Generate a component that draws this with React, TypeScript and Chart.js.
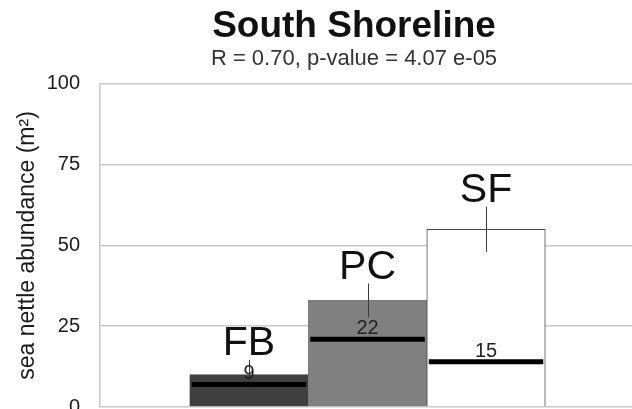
import React, { useEffect, useRef } from 'react';
import { Chart, registerables } from 'chart.js';

Chart.register(...registerables);

const sites = ['FB', 'PC', 'SF'];
const sitePositions = [1, 2, 3];
const meanAbundance = [10, 33, 55];
const errorSize = [4.6, 5.2, 7];
const medianAbundance = [7, 21, 14];
const sampleCounts = ['9', '22', '15'];
const yTicks = [0, 25, 50, 75, 100];

const FONT = '"Liberation Sans", Arial, Helvetica, sans-serif';

const overlayPlugin = {
  id: 'overlay',
  afterDatasetsDraw(chart: any) {
    const { ctx } = chart;
    const xs = chart.scales.x;
    const ys = chart.scales.y;
    const meta = chart.getDatasetMeta(0);
    ctx.save();
    sites.forEach((name, i) => {
      const bar: any = meta.data[i];
      const cx = xs.getPixelForValue(sitePositions[i]);
      const half = bar.width / 2;
      const top = ys.getPixelForValue(meanAbundance[i] + errorSize[i]);
      const bottom = ys.getPixelForValue(meanAbundance[i] - errorSize[i]);
      ctx.strokeStyle = '#3a3a3a';
      ctx.lineWidth = 1;
      ctx.beginPath();
      ctx.moveTo(Math.round(cx) + 0.5, top);
      ctx.lineTo(Math.round(cx) + 0.5, bottom);
      ctx.stroke();

      const my = ys.getPixelForValue(medianAbundance[i]);
      ctx.strokeStyle = '#000000';
      ctx.lineWidth = 5;
      ctx.beginPath();
      ctx.moveTo(cx - half + 2, my);
      ctx.lineTo(cx + half - 2, my);
      ctx.stroke();

      ctx.fillStyle = '#222222';
      ctx.font = `20px ${FONT}`;
      ctx.textAlign = 'center';
      ctx.textBaseline = 'alphabetic';
      ctx.fillText(sampleCounts[i], cx, my - 5);

      ctx.fillStyle = '#111111';
      ctx.font = `41px ${FONT}`;
      ctx.fillText(name, cx, top - 5);
    });
    ctx.restore();
  },
};

export default function App() {
  const canvasRef = useRef<HTMLCanvasElement | null>(null);

  useEffect(() => {
    document.body.style.overflow = 'hidden';
    const canvas = canvasRef.current;
    if (!canvas) return;
    const chart = new Chart(canvas, {
      type: 'bar',
      data: {
        datasets: [
          {
            data: sitePositions.map((x, i) => ({ x, y: meanAbundance[i] })),
            backgroundColor: ['#404040', '#808080', '#ffffff'],
            borderColor: ['#404040', '#7a7a7a', '#4a4a4a'],
            borderWidth: 1,
            barPercentage: 1,
            categoryPercentage: 1,
          },
        ],
      },
      options: {
        animation: false,
        responsive: false,
        devicePixelRatio: 1,
        layout: { padding: { left: 0, right: 0, top: 0, bottom: 24 } },
        plugins: {
          legend: { display: false },
          tooltip: { enabled: false },
          title: {
            display: true,
            text: 'South Shoreline',
            color: '#111111',
            font: { family: FONT, size: 37, weight: 'bold', lineHeight: 1.0 },
            padding: { top: 8, bottom: 0 },
          },
          subtitle: {
            display: true,
            text: 'R = 0.70, p-value = 4.07 e-05',
            color: '#333333',
            font: { family: FONT, size: 22, lineHeight: 1.0 },
            padding: { top: 2.5, bottom: 14.4 },
          },
        },
        scales: {
          x: {
            type: 'linear',
            display: false,
            offset: false,
            min: -0.2574,
            max: 4.873,
            afterBuildTicks: (scale: any) => {
              scale.ticks = sitePositions.map((v) => ({ value: v }));
            },
          },
          y: {
            min: 0,
            max: 100,
            afterBuildTicks: (scale: any) => {
              scale.ticks = yTicks.map((v) => ({ value: v }));
            },
            afterFit: (scale: any) => {
              scale.width = 100;
            },
            grid: { color: '#c8c8c8', lineWidth: 1.5, drawTicks: false },
            border: { color: '#c8c8c8', width: 1.5 },
            ticks: {
              padding: 20,
              color: '#1a1a1a',
              font: { family: FONT, size: 20 },
            },
            title: {
              display: true,
              text: 'sea nettle abundance (m²)',
              color: '#1a1a1a',
              font: { family: FONT, size: 23, lineHeight: 1.2 },
              padding: { top: 14.2, bottom: 4 },
            },
          },
        },
      },
      plugins: [overlayPlugin],
    });
    return () => chart.destroy();
  }, []);

  return (
    <div style={{ position: 'fixed', left: 0, top: 0, width: 708, height: 439 }}>
      <canvas ref={canvasRef} width={708} height={439} style={{ display: 'block', width: 708, height: 439 }} />
    </div>
  );
}
